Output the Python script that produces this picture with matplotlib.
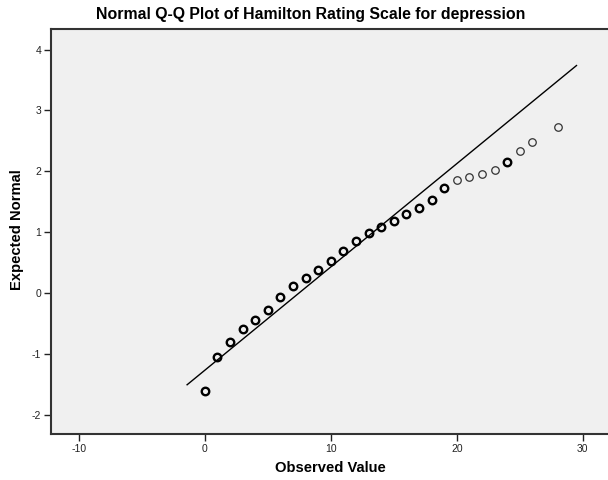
import matplotlib
matplotlib.use("Agg")
import matplotlib.pyplot as plt
import numpy as np

# Observed Hamilton scores and their expected normal quantiles
observed = [0, 1, 2, 3, 4, 5, 6, 7, 8, 9, 10, 11, 12, 13, 14,
            15, 16, 17, 18, 19, 20, 21, 22, 23, 24, 25, 26, 28]
expected = [-1.62, -1.06, -0.80, -0.60, -0.45, -0.28, -0.07, 0.11, 0.25, 0.38,
            0.53, 0.69, 0.85, 0.99, 1.08, 1.19, 1.29, 1.39, 1.53, 1.72,
            1.86, 1.90, 1.95, 2.02, 2.15, 2.34, 2.49, 2.73]
# scores shared by more than one case are drawn heavier
repeated = [1, 1, 1, 1, 1, 1, 1, 1, 1, 1, 1, 1, 1, 1, 1,
            1, 1, 1, 1, 1, 0, 0, 0, 0, 1, 0, 0, 0]

# reference line of the fitted normal distribution
mean_score = 7.49
sd_score = 5.886
line_range = [-1.4, 29.5]

xticks = [-10, 0, 10, 20, 30]
yticks = [-2, -1, 0, 1, 2, 3, 4]

plt.rcParams['font.family'] = ['Liberation Sans', 'DejaVu Sans']
plt.rcParams['axes.unicode_minus'] = False

fig = plt.figure(figsize=(6.08, 4.8), dpi=100)
ax = fig.add_axes([51 / 608, 46 / 480, 1 - 51 / 608, (434 - 29) / 480])
ax.set_facecolor('#f0f0f0')

lx = np.array(line_range)
ax.plot(lx, (lx - mean_score) / sd_score, color='black', lw=1.0, zorder=2)

obs = np.array(observed)
exp_ = np.array(expected)
rep = np.array(repeated, dtype=bool)
ax.plot(obs[rep], exp_[rep], 'o', ms=5.4, mfc='none', mec='black', mew=1.7, zorder=3)
ax.plot(obs[~rep], exp_[~rep], 'o', ms=5.4, mfc='none', mec='#333333', mew=0.9, zorder=3)

ax.set_xlim(-12.2, 32.0)
ax.set_ylim(-2.32, 4.34)
ax.set_xticks(xticks)
ax.set_yticks(yticks)
ax.tick_params(direction='out', length=5, width=1.0, colors='#222222',
               labelsize=7.5, pad=2)

for side in ['left', 'bottom', 'top']:
    ax.spines[side].set_color('#333333')
    ax.spines[side].set_linewidth(1.5)
ax.spines['right'].set_visible(False)

fig.text(311 / 608, 1 - 19.5 / 480, 'Normal Q-Q Plot of Hamilton Rating Scale for depression',
         ha='center', va='baseline', fontsize=11.4, fontweight='bold')
fig.text(330 / 608, 1 - 468 / 480, 'Observed Value',
         ha='center', va='center', fontsize=10.6, fontweight='bold')
fig.text(17.5 / 608, 1 - 230 / 480, 'Expected Normal', rotation=90,
         ha='center', va='center', fontsize=10.6, fontweight='bold')

fig.savefig('out.png', dpi=100, facecolor='white')
